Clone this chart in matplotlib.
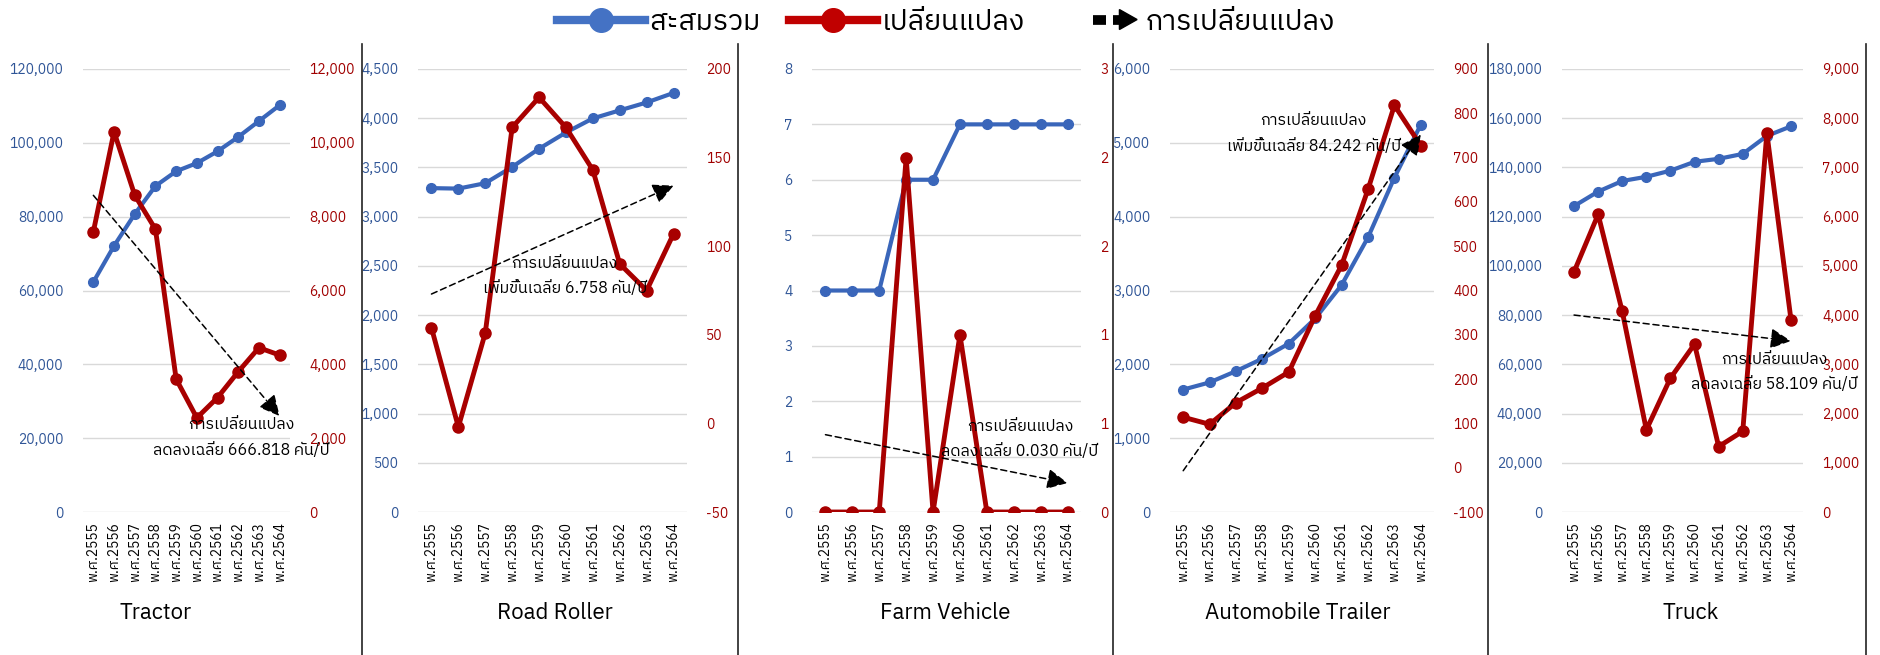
import numpy as np
import matplotlib
matplotlib.use('Agg')
import matplotlib.pyplot as plt
from matplotlib import font_manager
from matplotlib.ft2font import FT2Font
from matplotlib.lines import Line2D
from matplotlib.patches import Polygon
from matplotlib.legend_handler import HandlerBase
from matplotlib.ticker import FuncFormatter, MultipleLocator


def find_thai_font():
    """ first installed font that has Thai glyphs """
    found = []
    for f in font_manager.fontManager.ttflist:
        try:
            if 0x0E01 in FT2Font(f.fname).get_charmap():
                found.append(f.name)
        except Exception:
            continue
    for name in found:
        if 'Sans' in name:
            return name
    return found[0] if found else 'DejaVu Sans'


thai_font = find_thai_font()
plt.rcParams['font.family'] = [thai_font, 'DejaVu Sans']

# data
years = ['พ.ศ.2555', 'พ.ศ.2556', 'พ.ศ.2557', 'พ.ศ.2558', 'พ.ศ.2559',
         'พ.ศ.2560', 'พ.ศ.2561', 'พ.ศ.2562', 'พ.ศ.2563', 'พ.ศ.2564']

names = ['Tractor', 'Road Roller', 'Farm Vehicle', 'Automobile Trailer', 'Truck']

tractor_total = [62300, 72100, 80700, 88300, 92300, 94500, 97700, 101600, 105900, 110200]
tractor_change = [7590, 10300, 8580, 7660, 3600, 2550, 3100, 3800, 4450, 4250]

roller_total = [3290, 3285, 3340, 3505, 3690, 3855, 3998, 4080, 4160, 4257]
roller_change = [54, -2, 51, 167, 184, 167, 143, 90, 75, 107]

farm_total = [4, 4, 4, 6, 6, 7, 7, 7, 7, 7]
farm_change = [0, 0, 0, 2, 0, 1, 0, 0, 0, 0]

trailer_total = [1658, 1755, 1908, 2077, 2281, 2621, 3074, 3719, 4528, 5247]
trailer_change = [114, 98, 147, 180, 216, 343, 457, 628, 818, 727]

truck_total = [124300, 130200, 134500, 136200, 138700, 142300, 143500, 145500, 152800, 156700]
truck_change = [4880, 6045, 4075, 1670, 2720, 3410, 1330, 1640, 7700, 3910]

totals = [tractor_total, roller_total, farm_total, trailer_total, truck_total]
changes = [tractor_change, roller_change, farm_change, trailer_change, truck_change]

trend_labels = [
    'การเปลี่ยนแปลง\nลดลงเฉลี่ย 666.818 คัน/ปี',
    'การเปลี่ยนแปลง\nเพิ่มขึ้นเฉลี่ย 6.758 คัน/ปี',
    'การเปลี่ยนแปลง\nลดลงเฉลี่ย 0.030 คัน/ปี',
    'การเปลี่ยนแปลง\nเพิ่มขึ้นเฉลี่ย 84.242 คัน/ปี',
    'การเปลี่ยนแปลง\nลดลงเฉลี่ย 58.109 คัน/ปี',
]

legend_labels = ['สะสมรวม', 'เปลี่ยนแปลง', 'การเปลี่ยนแปลง']

# axis ranges (min, max, step) for left and right axes
left_axes = [(0, 120000, 20000), (0, 4500, 500), (0, 8, 1), (0, 6000, 1000), (0, 180000, 20000)]
right_axes = [(0, 12000, 2000), (-50, 200, 50), (0, 2.5, 0.5), (-100, 900, 100), (0, 9000, 1000)]

# layout (pixels of a 1880x655 canvas)
W, H = 1880, 655
axes_px = [(83, 207), (418, 269), (812, 269), (1170, 264), (1562, 241)]
plot_top, plot_bottom = 69, 512
title_x = [156, 555, 945, 1298, 1691]
title_y = 613
note_pos = [(0.763, 0.169), (0.546, 0.534), (0.773, 0.166), (0.544, 0.856), (0.882, 0.317)]
separators = [362, 738, 1113, 1488, 1866]

blue = '#3A66BA'
red = '#A80000'
blue_txt = '#2F5597'
red_txt = '#A00000'


def fmt_num(v, pos):
    # excel style: thousands separator, round half up
    return '{:,}'.format(int(np.floor(v + 0.5)))


fig = plt.figure(figsize=(W / 100, H / 100), dpi=100)

x = np.arange(len(years))
for i in range(5):
    left, width = axes_px[i]
    ax = fig.add_axes([left / W, 1 - plot_bottom / H, width / W, (plot_bottom - plot_top) / H])
    ax2 = ax.twinx()

    ax.plot(x, totals[i], color=blue, lw=3, marker='o', ms=7, zorder=3)
    ax2.plot(x, changes[i], color=red, lw=3.5, marker='o', ms=8, zorder=3)

    lo, hi, step = left_axes[i]
    ax.set_ylim(lo, hi)
    ax.yaxis.set_major_locator(MultipleLocator(step))
    lo, hi, step = right_axes[i]
    ax2.set_ylim(lo, hi)
    ax2.yaxis.set_major_locator(MultipleLocator(step))

    ax.yaxis.set_major_formatter(FuncFormatter(fmt_num))
    ax2.yaxis.set_major_formatter(FuncFormatter(fmt_num))

    ax.set_xlim(-0.5, len(years) - 0.5)
    ax.set_xticks(x)
    ax.set_xticklabels(years, rotation=90, fontsize=10)
    ax.tick_params(axis='x', length=0, pad=7)
    ax.tick_params(axis='y', length=0, pad=14, labelsize=10, labelcolor=blue_txt)
    ax2.tick_params(axis='y', length=0, pad=14, labelsize=10, labelcolor=red_txt)

    ax.grid(axis='y', color='#D9D9D9', lw=1)
    ax.set_axisbelow(True)
    for s in ax.spines.values():
        s.set_visible(False)
    for s in ax2.spines.values():
        s.set_visible(False)

    # linear trend of the yearly change
    k, b = np.polyfit(x, changes[i], 1)
    ax2.annotate('', xy=(x[-1], k * x[-1] + b), xytext=(x[0], b),
                 arrowprops=dict(arrowstyle='-|>,head_length=0.7,head_width=0.35',
                                 color='black', lw=1.1, linestyle=(0, (4, 2.5)),
                                 mutation_scale=18, shrinkA=0, shrinkB=0),
                 zorder=5)
    ax2.text(note_pos[i][0], note_pos[i][1], trend_labels[i], transform=ax2.transAxes,
             ha='center', va='center', fontsize=11.5, linespacing=1.75, zorder=6)

    fig.text(title_x[i] / W, 1 - title_y / H, names[i], ha='center', va='center', fontsize=16)

for sx in separators:
    fig.add_artist(Line2D([sx / W, sx / W], [0, 1 - 44 / H], color='#222222', lw=1.2))


class ArrowHandler(HandlerBase):
    def create_artists(self, legend, orig_handle, xdescent, ydescent, width, height, fontsize, trans):
        y = height / 2 - ydescent
        x0 = -xdescent + width * 0.45
        w = width * 0.5
        dash = Line2D([x0, x0 + w * 0.3], [y, y], color='black', lw=7,
                      solid_capstyle='butt', transform=trans)
        shaft = Line2D([x0 + w * 0.45, x0 + w * 0.65], [y, y], color='black', lw=7,
                       solid_capstyle='butt', transform=trans)
        head = Polygon([[x0 + w * 0.6, y - height * 0.5], [x0 + w * 0.6, y + height * 0.5],
                        [x0 + w, y]], closed=True, color='black', transform=trans)
        return [dash, shaft, head]


h_blue = Line2D([], [], color='#4472C4', lw=6, marker='o', ms=17)
h_red = Line2D([], [], color='#C00000', lw=6, marker='o', ms=17)
h_arrow = Line2D([], [])
fig.legend([h_blue, h_red, h_arrow], legend_labels, loc='center',
           bbox_to_anchor=(946 / W, 1 - 22 / H), ncol=3, frameon=False, fontsize=20.5,
           handlelength=3.1, handletextpad=0.15, columnspacing=1.0,
           handler_map={h_arrow: ArrowHandler()})

fig.savefig('out.png', dpi=100)
